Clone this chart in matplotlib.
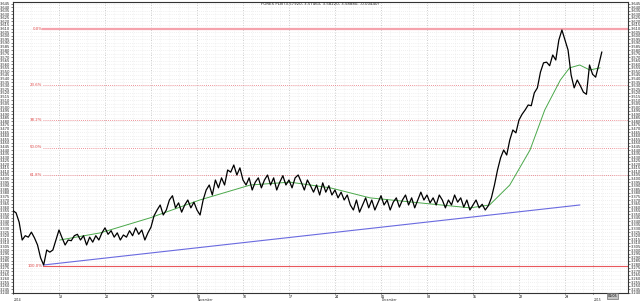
import matplotlib
matplotlib.use("Agg")
import matplotlib.pyplot as plt
import matplotlib.transforms as mtransforms
import numpy as np

# closing prices, 3 bars per trading day
close = [
    3.355, 3.352, 3.339, 3.314, 3.320, 3.318, 3.325, 3.317, 3.307, 3.289,
    3.279, 3.300, 3.297, 3.300, 3.314, 3.328, 3.317, 3.307, 3.314, 3.313,
    3.320, 3.322, 3.314, 3.320, 3.307, 3.318, 3.311, 3.320, 3.314, 3.324,
    3.331, 3.322, 3.327, 3.318, 3.324, 3.314, 3.321, 3.318, 3.327, 3.320,
    3.331, 3.322, 3.328, 3.314, 3.324, 3.332, 3.348, 3.356, 3.363, 3.349,
    3.356, 3.370, 3.376, 3.359, 3.366, 3.353, 3.363, 3.370, 3.359, 3.367,
    3.356, 3.349, 3.370, 3.384, 3.391, 3.377, 3.398, 3.387, 3.401, 3.391,
    3.412, 3.409, 3.419, 3.405, 3.415, 3.398, 3.391, 3.401, 3.384, 3.395,
    3.401, 3.387, 3.398, 3.405, 3.391, 3.401, 3.384, 3.395, 3.404, 3.391,
    3.398, 3.387, 3.401, 3.405, 3.395, 3.384, 3.398, 3.390, 3.381, 3.391,
    3.377, 3.394, 3.381, 3.390, 3.377, 3.384, 3.373, 3.381, 3.370, 3.377,
    3.363, 3.356, 3.370, 3.353, 3.363, 3.373, 3.359, 3.370, 3.356, 3.366,
    3.376, 3.363, 3.370, 3.356, 3.367, 3.373, 3.360, 3.370, 3.377, 3.363,
    3.373, 3.359, 3.370, 3.381, 3.370, 3.377, 3.366, 3.373, 3.363, 3.377,
    3.370, 3.359, 3.370, 3.363, 3.377, 3.367, 3.373, 3.360, 3.370, 3.356,
    3.363, 3.370, 3.359, 3.364, 3.356, 3.362, 3.373, 3.391, 3.412, 3.429,
    3.440, 3.433, 3.454, 3.468, 3.464, 3.482, 3.490, 3.496, 3.503, 3.502,
    3.520, 3.527, 3.549, 3.562, 3.563, 3.558, 3.573, 3.566, 3.594, 3.608,
    3.594, 3.580, 3.545, 3.527, 3.538, 3.530, 3.521, 3.518, 3.559, 3.546,
    3.542, 3.559, 3.577,
]
bars_per_day = 3

# moving average (green), trading-day positions
ma_day = [5.1, 9.5, 14.9, 20.3, 25.8, 30.1, 34.5, 38.8, 44.2, 49.7,
          51.8, 54.0, 56.2, 57.8, 59.5, 60.5, 61.6, 62.7, 63.8]
ma_val = [3.314, 3.324, 3.345, 3.370, 3.391, 3.395, 3.387, 3.373, 3.366, 3.359,
          3.363, 3.391, 3.440, 3.496, 3.538, 3.555, 3.559, 3.552, 3.555]

# trend line (blue)
trend_day = [3.3, 61.6]
trend_val = [3.279, 3.363]

# fibonacci retracement
fib_high = 3.609
fib_low = 3.278
fib_start = 3.3
fib_levels = [0.0, 23.6, 38.2, 50.0, 61.8, 100.0]

tick_days = [0, 5, 10, 15, 20, 25, 30, 35, 40, 45, 50, 55, 60, 63]
tick_labels = ["", "13", "20", "27", "03", "10", "17", "24", "01", "08", "15", "22", "29", ""]
month_days = [0, 20, 40, 63]
month_labels = ["2014", "November", "December", "2015"]

title = "FOREX PLN (3.57920, 3.57463, 3.58220, 3.58880, -0.00440)"

fig = plt.figure(figsize=(6.4, 3.02), dpi=100, facecolor="white")
ax = fig.add_axes([13 / 640, 9 / 302, 615 / 640, 291 / 302])
ax.set_xlim(0, 66.85)
ax.set_ylim(3.2398, 3.6472)

# grid
ax.set_yticks(np.round(np.arange(3.240, 3.6451, 0.005), 3))
ax.yaxis.set_major_formatter(matplotlib.ticker.FormatStrFormatter("%.3f"))
ax.set_xticks(tick_days)
ax.set_xticklabels(tick_labels)
ax.set_xticks(np.arange(0, 67, 1), minor=True)
ax.grid(True, axis="y", which="major", color="#e2e2e2", linestyle=(0, (1, 2)), linewidth=0.5)
ax.grid(True, axis="x", which="major", color="#bdbdbd", linestyle=(0, (1, 2)), linewidth=0.6)
ax.grid(True, axis="x", which="minor", color="#e6e6e6", linestyle=(0, (1, 2)), linewidth=0.4)
ax.set_axisbelow(True)

ax.tick_params(axis="y", which="major", labelsize=2.6, length=1.5, width=0.4, pad=0.4,
               left=True, right=True, labelleft=True, labelright=True, colors="#222222")
ax.tick_params(axis="x", which="major", labelsize=2.3, length=1, width=0.5, pad=0.1)
ax.tick_params(axis="x", which="minor", length=0)
for lbl in ax.get_xticklabels():
    lbl.set_horizontalalignment("left")
for s in ax.spines.values():
    s.set_linewidth(0.8)
    s.set_color("#333333")

# fib levels
fib_range = fib_high - fib_low
for lv in fib_levels:
    price = fib_high - fib_range * lv / 100
    if lv == 0:
        ax.plot([fib_start, 66.85], [price, price], color="#f5a3ad", linewidth=1.6, zorder=2)
    elif lv == 100:
        ax.plot([fib_start, 66.85], [price, price], color="#e8585c", linewidth=0.8, zorder=2)
    else:
        ax.plot([fib_start, 66.85], [price, price], color="#e87078", linewidth=0.6,
                linestyle=(0, (1, 1.5)), zorder=2)
    ax.text(fib_start - 0.1, price, f"{lv:.1f}%", color="#e04848", fontsize=2.8,
            ha="right", va="center", zorder=3)

# series
ax.plot(trend_day, trend_val, color="#6a6ae0", linewidth=0.8, zorder=3)
ax.plot(ma_day, ma_val, color="#4aa84a", linewidth=0.7, zorder=4)
days = np.arange(len(close)) / bars_per_day
ax.plot(days, close, color="black", linewidth=0.9, zorder=5)

# month labels below the axis
trans = mtransforms.blended_transform_factory(ax.transData, ax.transAxes)
for d, m in zip(month_days, month_labels):
    ax.text(d + 0.1, -5 / 291, m, transform=trans, fontsize=2.2, ha="left", va="top",
            color="#222222", clip_on=False)

# current date box bottom right
ax.text(65.2, -0.004, "01/05", transform=trans, fontsize=2.4, ha="center", va="top",
        clip_on=False, bbox=dict(boxstyle="square,pad=0.2", facecolor="#c4c4c4",
                                 edgecolor="#555555", linewidth=0.4))

fig.text(320 / 640, 1 - 4 / 302, title, fontsize=2.8, ha="center", va="center", color="#222222")

fig.savefig("out.png", dpi=100, facecolor="white")
